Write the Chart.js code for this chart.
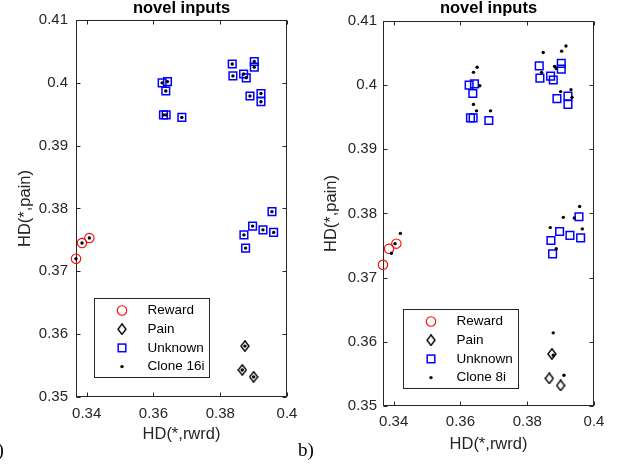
<!DOCTYPE html>
<html>
<head>
<meta charset="utf-8">
<script src="https://cdn.jsdelivr.net/npm/chart.js@4.4.1/dist/chart.umd.min.js"></script>
<style>
  html, body { margin: 0; padding: 0; background: #fff; }
  #wrap { position: relative; width: 624px; height: 468px; overflow: hidden; }
  #wrap canvas { position: absolute; top: 0; }
  #c1 { left: 0; }
  #c2 { left: 312px; }
  .tag { position: absolute; font-family: "Liberation Serif", "Times New Roman", serif; font-size: 19px; color: #000; line-height: 1; }
</style>
</head>
<body>
<div id="wrap">
  <canvas id="c1" width="312" height="468"></canvas>
  <canvas id="c2" width="312" height="468"></canvas>
  <div class="tag" style="left:-11px;top:440px">a)</div>
  <div class="tag" style="left:298px;top:440px">b)</div>
</div>
<script>
/* novel inputs: HD(*,rwrd) vs HD(*,pain), clone 16i and clone 8i */

// axes
var X_MIN = 0.3368, X_MAX = 0.4;
var Y_MIN = 0.35, Y_MAX = 0.41;
var xTicks = [0.34, 0.36, 0.38, 0.4];
var xTickLabels = ['0.34', '0.36', '0.38', '0.4'];
var yTicks = [0.35, 0.36, 0.37, 0.38, 0.39, 0.4, 0.41];
var yTickLabels = ['0.35', '0.36', '0.37', '0.38', '0.39', '0.4', '0.41'];

// input classes (same in both panels)
var rewardX = [0.3368, 0.3386, 0.3408];
var rewardY = [0.3720, 0.3745, 0.3753];
var painX = [0.3874, 0.3866, 0.3900];
var painY = [0.3581, 0.3543, 0.3532];
var unknownX = [0.3626, 0.3642, 0.3637, 0.3630, 0.3638, 0.3685,
                0.3836, 0.3838, 0.3870, 0.3878, 0.3902, 0.3902, 0.3889, 0.3922, 0.3922,
                0.3955, 0.3897, 0.3928, 0.3960, 0.3871, 0.3876];
var unknownY = [0.4000, 0.4002, 0.3987, 0.3949, 0.3949, 0.3945,
                0.4030, 0.4011, 0.4014, 0.4008, 0.4034, 0.4025, 0.3979, 0.3983, 0.3970,
                0.3795, 0.3772, 0.3766, 0.3762, 0.3758, 0.3737];

// clone 16i responses (panel a)
var clone16X = [0.3368, 0.3386, 0.3408, 0.3874, 0.3866, 0.3900,
                0.3626, 0.3642, 0.3637, 0.3630, 0.3638, 0.3685,
                0.3836, 0.3838, 0.3870, 0.3878, 0.3902, 0.3902, 0.3889, 0.3922, 0.3922,
                0.3955, 0.3897, 0.3928, 0.3960, 0.3871, 0.3876];
var clone16Y = [0.3720, 0.3745, 0.3753, 0.3581, 0.3543, 0.3532,
                0.4000, 0.4002, 0.3987, 0.3949, 0.3949, 0.3945,
                0.4030, 0.4011, 0.4014, 0.4008, 0.4034, 0.4025, 0.3979, 0.3983, 0.3970,
                0.3795, 0.3772, 0.3766, 0.3762, 0.3758, 0.3737];

// clone 8i responses (panel b)
var clone8X = [0.3420, 0.3404, 0.3393, 0.3878, 0.3878, 0.3910,
               0.3650, 0.3639, 0.3658, 0.3639, 0.3648, 0.3690,
               0.3848, 0.3843, 0.3882, 0.3887, 0.3903, 0.3916, 0.3900, 0.3931, 0.3934,
               0.3957, 0.3908, 0.3941, 0.3869, 0.3965, 0.3887];
var clone8Y = [0.3769, 0.3753, 0.3738, 0.3614, 0.3579, 0.3548,
               0.4028, 0.4020, 0.3999, 0.3970, 0.3960, 0.3960,
               0.4051, 0.4020, 0.4029, 0.4026, 0.4053, 0.4061, 0.3990, 0.3993, 0.3981,
               0.3811, 0.3794, 0.3793, 0.3778, 0.3776, 0.3745];

var FONT = '"Liberation Sans", Arial, Helvetica, sans-serif';
var AX = '#262626';
Chart.defaults.font.family = FONT;

// MATLAB-ish diamond (taller than wide)
var diamond = document.createElement('canvas');
diamond.width = 10; diamond.height = 12;
(function () {
  var g = diamond.getContext('2d');
  g.strokeStyle = '#000'; g.lineWidth = 1.4;
  g.beginPath();
  g.moveTo(5, 0.8); g.lineTo(9, 6); g.lineTo(5, 11.2); g.lineTo(1, 6);
  g.closePath(); g.stroke();
})();

function pts(xs, ys) {
  return xs.map(function (x, i) { return { x: x, y: ys[i] }; });
}

// box, inward ticks, title and legend
var framePlugin = {
  id: 'frame',
  beforeDatasetsDraw: function (chart) {
    var ctx = chart.ctx, a = chart.chartArea;
    var L = Math.round(a.left) + 0.5, R = Math.round(a.right) - 0.5;
    var T = Math.round(a.top) + 0.5, B = Math.round(a.bottom) - 0.5;
    ctx.save();
    ctx.strokeStyle = AX; ctx.lineWidth = 1;
    ctx.strokeRect(L, T, R - L, B - T);
    ctx.beginPath();
    xTicks.forEach(function (v) {
      var px = Math.round(chart.scales.x.getPixelForValue(v)) + 0.5;
      ctx.moveTo(px, B); ctx.lineTo(px, B - 4);
      ctx.moveTo(px, T); ctx.lineTo(px, T + 4);
    });
    yTicks.forEach(function (v) {
      var py = Math.round(chart.scales.y.getPixelForValue(v)) + 0.5;
      ctx.moveTo(L, py); ctx.lineTo(L + 4, py);
      ctx.moveTo(R, py); ctx.lineTo(R - 4, py);
    });
    ctx.stroke();
    ctx.restore();
  },
  afterDraw: function (chart, args, opts) {
    var ctx = chart.ctx, a = chart.chartArea;
    ctx.save();
    // title
    ctx.fillStyle = '#000';
    ctx.font = 'bold 16.5px ' + FONT;
    ctx.textAlign = 'center'; ctx.textBaseline = 'alphabetic';
    ctx.fillText('novel inputs', (a.left + a.right) / 2, 13);

    // legend
    var bx = Math.round(a.left + opts.legendX) + 0.5;
    var by = Math.round(a.bottom - opts.legendY) + 0.5;
    var bw = 115, bh = 79;
    ctx.fillStyle = '#fff';
    ctx.fillRect(bx, by, bw, bh);
    ctx.strokeStyle = AX; ctx.lineWidth = 1;
    ctx.strokeRect(bx, by, bw, bh);
    var mx = bx + 27.5, tx = bx + 53;
    ctx.font = '13.5px ' + FONT;
    ctx.textAlign = 'left'; ctx.textBaseline = 'middle';
    chart.data.datasets.slice().sort(function (p, q) { return p.legendIndex - q.legendIndex; })
      .forEach(function (ds, i) {
        var y = by + 12 + i * 18.7;
        ctx.strokeStyle = ds.borderColor; ctx.fillStyle = ds.backgroundColor;
        ctx.lineWidth = ds.borderWidth || 1;
        if (ds.pointStyle === 'circle' && ds.pointRadius > 2) {
          ctx.beginPath(); ctx.arc(mx, y, ds.pointRadius, 0, Math.PI * 2); ctx.stroke();
        } else if (ds.pointStyle === 'circle') {
          ctx.beginPath(); ctx.arc(mx, y, ds.pointRadius, 0, Math.PI * 2); ctx.fill();
        } else if (ds.pointStyle === 'rect') {
          var s = ds.pointRadius * Math.SQRT1_2;
          ctx.strokeRect(mx - s, y - s, 2 * s, 2 * s);
        } else {
          ctx.drawImage(ds.pointStyle, mx - 5, y - 6);
        }
        ctx.fillStyle = '#000';
        ctx.fillText(ds.label, tx, y);
      });
    ctx.restore();
  }
};

function makePanel(id, cloneLabel, cloneX, cloneY, lay) {
  new Chart(document.getElementById(id), {
    type: 'scatter',
    data: {
      datasets: [
        { label: cloneLabel, legendIndex: 3, data: pts(cloneX, cloneY), order: 0, clip: false,
          pointStyle: 'circle', pointRadius: 1.7, borderWidth: 0,
          backgroundColor: '#000', borderColor: '#000' },
        { label: 'Reward', legendIndex: 0, data: pts(rewardX, rewardY), order: 1, clip: false,
          pointStyle: 'circle', pointRadius: 4.7, borderWidth: 1.1,
          backgroundColor: 'rgba(0,0,0,0)', borderColor: '#ff0000' },
        { label: 'Pain', legendIndex: 1, data: pts(painX, painY), order: 1, clip: false,
          pointStyle: diamond, pointRadius: 5, borderWidth: 1,
          backgroundColor: 'rgba(0,0,0,0)', borderColor: '#000' },
        { label: 'Unknown', legendIndex: 2, data: pts(unknownX, unknownY), order: 1, clip: false,
          pointStyle: 'rect', pointRadius: 5.4, borderWidth: 1.5,
          backgroundColor: 'rgba(0,0,0,0)', borderColor: '#0000ff' }
      ]
    },
    options: {
      responsive: false, animation: false, events: [],
      layout: { padding: { left: 0, top: lay.top, right: lay.right, bottom: 0 } },
      plugins: {
        legend: { display: false }, tooltip: { enabled: false }, title: { display: false },
        frame: { legendX: lay.legendX, legendY: lay.legendY }
      },
      scales: {
        x: {
          type: 'linear', min: X_MIN, max: X_MAX,
          afterFit: function (s) { s.height = lay.xh; },
          afterBuildTicks: function (s) { s.ticks = xTicks.map(function (v) { return { value: v }; }); },
          ticks: {
            autoSkip: false, maxRotation: 0, padding: lay.xPad, color: AX, font: { size: 15 },
            callback: function (v) { return xTickLabels[xTicks.indexOf(v)]; }
          },
          grid: { display: false, drawTicks: false },
          border: { display: false },
          title: { display: true, text: 'HD(*,rwrd)', color: AX, font: { size: 16.5 },
                   padding: { top: 0, bottom: lay.xTitlePad } }
        },
        y: {
          type: 'linear', min: Y_MIN, max: Y_MAX,
          afterFit: function (s) { s.width = lay.yw; },
          afterBuildTicks: function (s) { s.ticks = yTicks.map(function (v) { return { value: v }; }); },
          ticks: {
            autoSkip: false, padding: lay.yPad, color: AX, font: { size: 15 },
            callback: function (v) { return yTickLabels[yTicks.indexOf(v)]; }
          },
          grid: { display: false, drawTicks: false },
          border: { display: false },
          title: { display: true, text: 'HD(*,pain)', color: AX, font: { size: 16.5 },
                   padding: { top: lay.yTitlePad, bottom: 0 } }
        }
      }
    },
    plugins: [framePlugin]
  });
}

makePanel('c1', 'Clone 16i', clone16X, clone16Y,
  { top: 20, right: 25, xh: 71, yw: 76, xPad: 8, yPad: 8, xTitlePad: 24, yTitlePad: 16, legendX: 18, legendY: 99 });
makePanel('c2', 'Clone 8i', clone8X, clone8Y,
  { top: 21, right: 30, xh: 62, yw: 71, xPad: 7, yPad: 6, xTitlePad: 14, yTitlePad: 10, legendX: 20, legendY: 97 });
</script>
</body>
</html>
